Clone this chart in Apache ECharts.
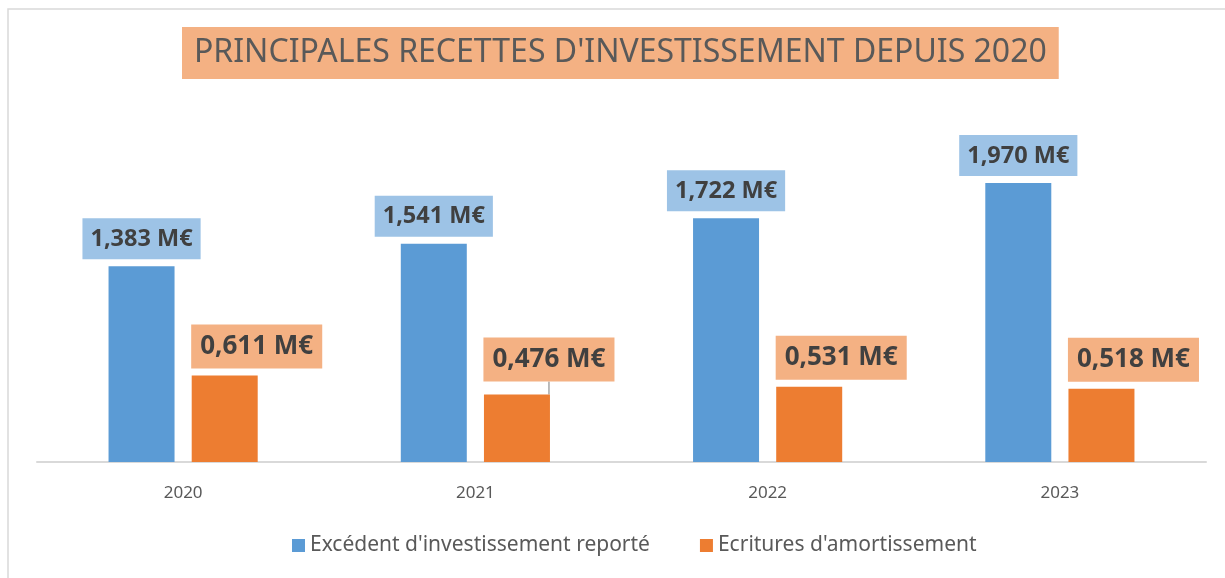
<!DOCTYPE html>
<html>
<head>
<meta charset="utf-8">
<script src="https://cdn.jsdelivr.net/npm/echarts@6/dist/echarts.min.js"></script>
<style>
  html, body { margin: 0; padding: 0; background: #ffffff; }
  #main { width: 1225px; height: 578px; }
</style>
</head>
<body>
<div id="main"></div>
<script>
// années
const years = ['2020', '2021', '2022', '2023']
// montants en M€
const excedent = [1.383, 1.541, 1.722, 1.970]
const amortissement = [0.611, 0.476, 0.531, 0.518]
const seriesNames = ["Excédent d'investissement reporté", "Ecritures d'amortissement"]

const fmt = v => v.toFixed(3).replace('.', ',') + ' M€'

var chart = echarts.init(document.getElementById('main'))
var option = {
  animation: false,
  backgroundColor: '#ffffff',
  title: {
    text: "PRINCIPALES RECETTES D'INVESTISSEMENT DEPUIS 2020",
    left: 182,
    top: 27,
    backgroundColor: '#f4b183',
    padding: [8, 12],
    textStyle: {
      fontFamily: 'Noto Sans',
      fontWeight: 'normal',
      fontSize: 32,
      lineHeight: 36,
      color: '#595959'
    }
  },
  graphic: [{
    type: 'rect',
    shape: { x: 8, y: 9, width: 1240, height: 600 },
    style: { fill: 'none', stroke: '#d9d9d9', lineWidth: 1.5 },
    silent: true
  }],
  legend: {
    data: seriesNames,
    bottom: 17,
    left: 287,
    icon: 'rect',
    itemWidth: 13,
    itemHeight: 13,
    itemGap: 50,
    textStyle: { fontFamily: 'Noto Sans', fontSize: 21, color: '#595959' }
  },
  grid: { left: 37, right: 19, top: 108, bottom: 116 },
  xAxis: {
    type: 'category',
    data: years,
    axisTick: { show: false },
    axisLine: { lineStyle: { color: '#d9d9d9', width: 2 } },
    axisLabel: { fontFamily: 'Noto Sans', fontSize: 17, color: '#595959', margin: 23 }
  },
  yAxis: {
    type: 'value',
    min: 0,
    max: 2.5,
    show: false,
    splitLine: { show: false }
  },
  series: [
    {
      name: seriesNames[0],
      type: 'bar',
      data: excedent,
      barWidth: 66,
      barGap: '26%',
      itemStyle: { color: '#5b9bd5' },
      label: {
        show: true,
        position: 'top',
        distance: 7,
        formatter: p => fmt(p.value),
        backgroundColor: '#9dc3e6',
        padding: [8, 8, 7, 8],
        fontFamily: 'Noto Sans',
        fontWeight: 'bold',
        fontSize: 23.5,
        lineHeight: 26,
        color: '#404040'
      }
    },
    {
      name: seriesNames[1],
      type: 'bar',
      data: amortissement.map((v, i) => i === 1 ? { value: v, labelLine: { show: true } } : v),
      barWidth: 66,
      itemStyle: { color: '#ed7d31' },
      label: {
        show: true,
        position: 'top',
        distance: 7,
        formatter: p => fmt(p.value),
        backgroundColor: '#f4b183',
        padding: [8, 9, 8, 9],
        fontFamily: 'Noto Sans',
        fontWeight: 'bold',
        fontSize: 26,
        lineHeight: 28,
        color: '#404040'
      },
      labelLine: { show: false, lineStyle: { color: '#a6a6a6', width: 1.5 } },
      labelLayout: function (p) {
        return { dx: 32, dy: p.dataIndex === 1 ? -6 : 0 }
      }
    }
  ]
}
chart.setOption(option)
</script>
</body>
</html>
